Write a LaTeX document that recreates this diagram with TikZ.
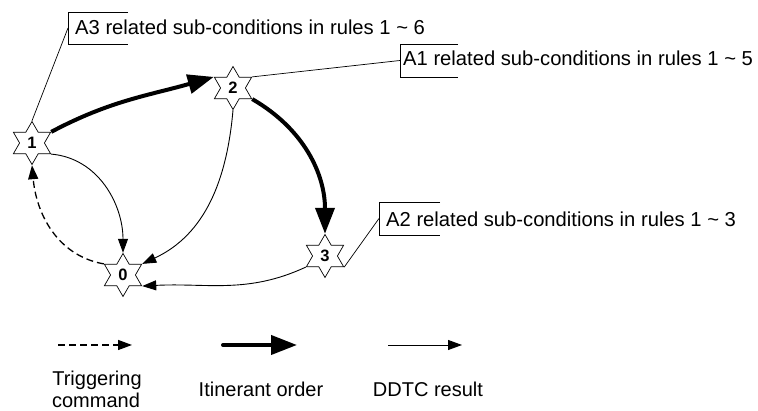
\documentclass[tikz,border=0pt]{standalone}
\usepackage{fontspec}
\setmainfont{Liberation Sans}
\usetikzlibrary{shapes.geometric,arrows.meta}
\begin{document}
\begin{tikzpicture}[x=1pt,y=1pt,
 stnode/.style={star, star points=6, star point ratio=1.732, minimum size=43pt, inner sep=0pt, draw, line width=0.7pt, fill=white, font=\fontsize{16.5}{16.5}\selectfont\bfseries},
 itin/.style={line width=4pt, -{Triangle[length=26pt,width=19pt]}},
 res/.style={line width=0.9pt, -{Triangle[length=14pt,width=10pt]}},
 trig/.style={line width=1.3pt, dash pattern=on 7pt off 4pt, -{Triangle[length=14pt,width=10pt]}},
 callout/.style={line width=0.7pt},
 lbl/.style={font=\fontsize{20.2}{24}\selectfont, inner sep=0pt, anchor=base west},
 leg/.style={font=\fontsize{20}{24}\selectfont, inner sep=0pt, anchor=base}]
\useasboundingbox (0,0) rectangle (758,411);

% stars
\node[stnode] (s1) at (32,268) {1};
\node[stnode] (s2) at (233,323) {2};
\node[stnode] (s3) at (325,155) {3};
\node[stnode] (s0) at (123,136) {0};

% callout boxes
\coordinate (bA3) at (68,383);
\coordinate (bA1) at (400,350.5);
\coordinate (bA2) at (379,192.5);
\draw[callout] (bA3) ++(60,16) -- ++(-60,0) -- ++(0,-32) -- ++(60,0);
\draw[callout] (bA1) ++(58,16.5) -- ++(-58,0) -- ++(0,-33) -- ++(58,0);
\draw[callout] (bA2) ++(61,16.5) -- ++(-61,0) -- ++(0,-33) -- ++(61,0);
\node[lbl] (tA3) at (75,376) {A3 related sub-conditions in rules 1 \textasciitilde{} 6};
\node[lbl] (tA1) at (403,345) {A1 related sub-conditions in rules 1 \textasciitilde{} 5};
\node[lbl] (tA2) at (386,184.3) {A2 related sub-conditions in rules 1 \textasciitilde{} 3};
\draw[callout] (s1.90) -- (bA3);
\draw[callout] (s2.30) -- (bA1);
\draw[callout] (s3.-30) -- (bA2);

% connectors
\draw[itin] (s1.30) to[out=28,in=196] (s2.150);
\draw[itin] (s2.-30) to[out=-30,in=90] (s3.90);
\draw[res] (s2.270) to[out=-95,in=25] (s0.30);
\draw[res] (s1.-30) to[out=-5,in=90] (s0.90);
\draw[res] (s3.210) to[out=205,in=3] (s0.-30);
\draw[trig] (s0.150) to[out=170,in=-85] (s1.270);

% legend
\coordinate (l1a) at (58,66);  \coordinate (l1b) at (132,66);
\coordinate (l2a) at (223,66); \coordinate (l2b) at (297,66);
\coordinate (l3a) at (388,66); \coordinate (l3b) at (462,66);
\draw[trig] (l1a) -- (l1b);
\draw[itin, line cap=round] (l2a) -- (l2b);
\draw[res] (l3a) -- (l3b);
\node[leg] (g1) at (97,25) {Triggering};
\node[leg] (g1b) at (96,3) {command};
\node[leg] (g2) at (261,14) {Itinerant order};
\node[leg] (g3) at (428,14) {DDTC result};
\end{tikzpicture}
\end{document}
